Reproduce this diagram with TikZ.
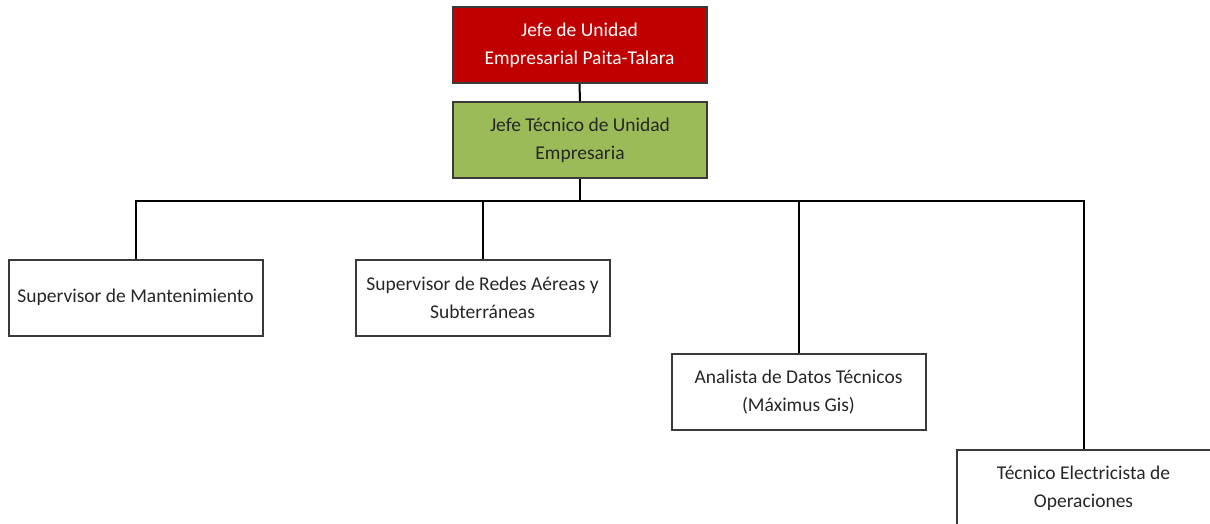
\documentclass[tikz,border=0pt]{standalone}
\usepackage{fontspec}
\setmainfont{Carlito}
\definecolor{jefered}{HTML}{C00000}
\definecolor{jefegreen}{HTML}{9BBB59}
\definecolor{boxborder}{HTML}{3A3A3A}
\definecolor{txtdark}{HTML}{262626}
\begin{document}
\begin{tikzpicture}[x=1pt,y=-1pt,
  orgbox/.style={draw=boxborder, line width=2pt, minimum width=254pt, minimum height=76pt,
    inner sep=0pt, align=center, text=txtdark,
    font=\fontsize{19.5}{28}\selectfont},
  conn/.style={draw=black, line width=2pt}]
\useasboundingbox (0,0) rectangle (1210,524);
\clip (0,0) rectangle (1210,524);
\node[orgbox, fill=jefered, text=white] (jefe) at (579.5,45) {Jefe de Unidad\\Empresarial Paita-Talara};
\node[orgbox, fill=jefegreen] (tec) at (580,140) {Jefe Técnico de Unidad\\Empresaria};
\node[orgbox] (sm) at (135.5,297.5) {Supervisor de Mantenimiento};
\node[orgbox] (sr) at (482.5,297.5) {Supervisor de Redes Aéreas y\\Subterráneas};
\node[orgbox] (an) at (798.5,392) {Analista de Datos Técnicos\\(Máximus Gis)};
\node[orgbox] (te) at (1083.5,488) {Técnico Electricista de\\Operaciones};
\coordinate (bus) at (580,201);
\draw[conn] (jefe.south) -- (tec.north);
\draw[conn] (tec.south) -- (bus);
\draw[conn] (sm.north) |- (bus) -| (te.north);
\draw[conn] (sr.north) -- (sr.north |- bus);
\draw[conn] (an.north) -- (an.north |- bus);
\end{tikzpicture}
\end{document}
